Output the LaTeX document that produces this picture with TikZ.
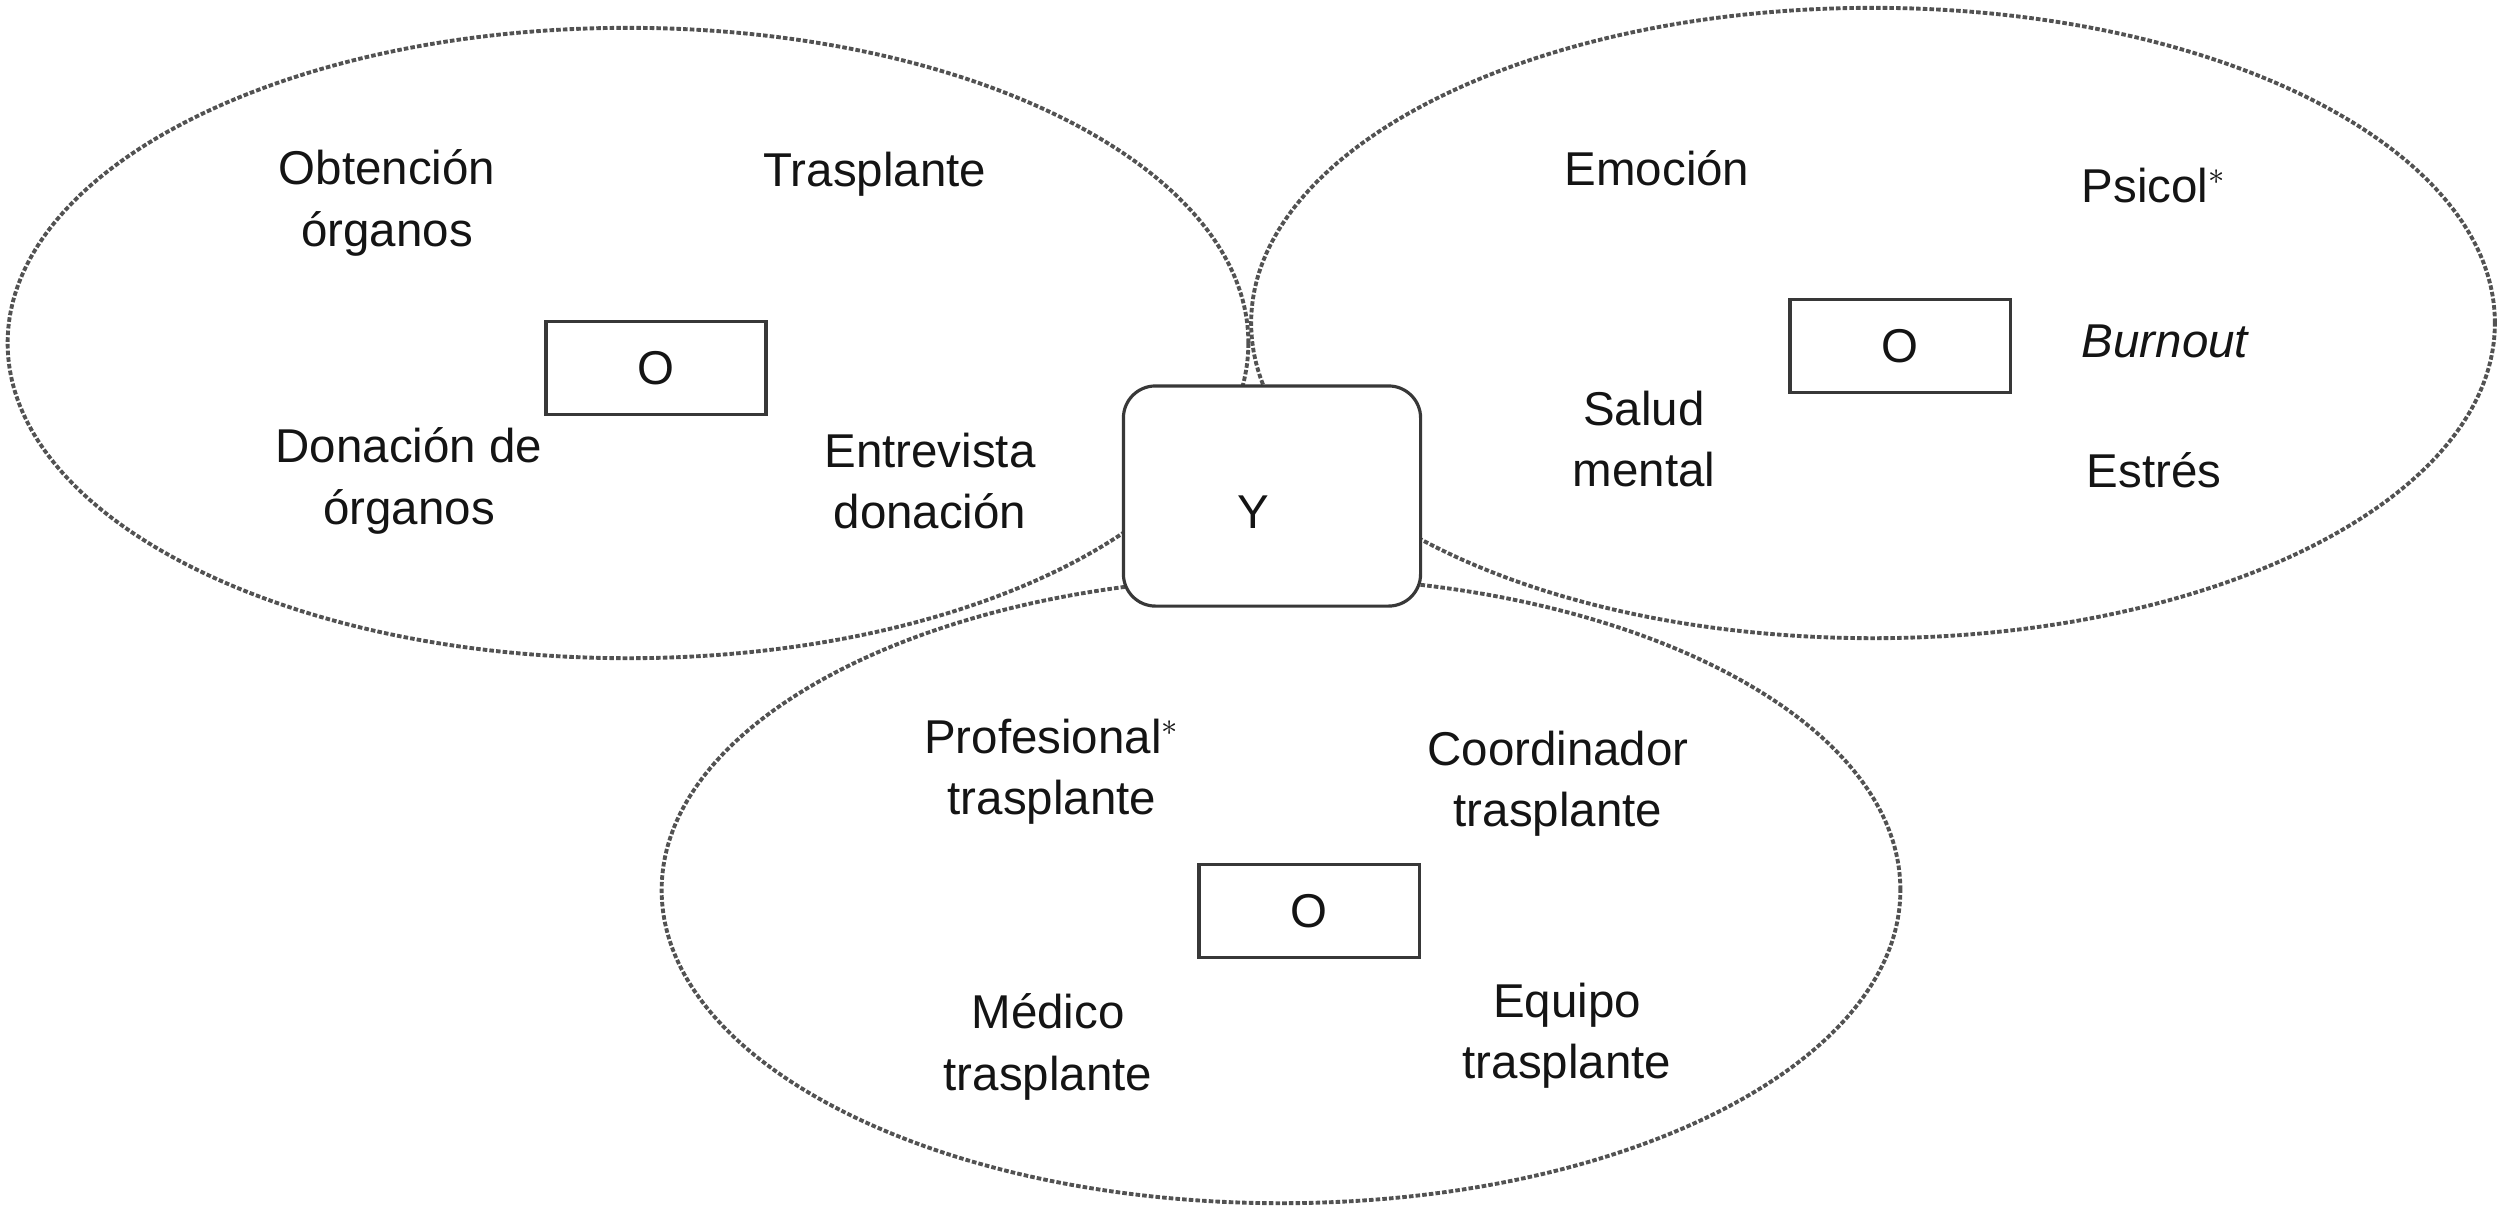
\documentclass[tikz,border=0pt]{standalone}
\usepackage{fontspec}
\setmainfont{Liberation Sans}
\newcommand\labfont{\fontsize{13.5pt}{17.4pt}\selectfont}
\begin{document}
\begin{tikzpicture}[x=0.01cm,y=-0.01cm,
  oval/.style={draw=black!68, line width=1.1pt, dash pattern=on 1.3pt off 0.6pt},
  orbox/.style={draw=black!78, line width=0.9pt, minimum width=2.2cm, minimum height=0.93cm, inner sep=0pt, font=\labfont, text=black!92},
  ybox/.style={draw=black!78, fill=white, line width=0.9pt, rounded corners=0.32cm, minimum width=2.97cm, minimum height=2.2cm, inner sep=0pt},
  term/.style={align=center, font=\labfont, text=black!92, inner sep=0pt}]
\useasboundingbox (0,0) rectangle (2500,1211);
% ovals
\draw[oval] (628,343) ellipse [x radius=6.2cm, y radius=3.15cm];
\draw[oval] (1873,323) ellipse [x radius=6.215cm, y radius=3.15cm];
\draw[oval] (1281,890) ellipse [x radius=6.19cm, y radius=3.13cm];
% central box
\node[ybox] (y) at (1272,496) {};
\node[term] (ylab) at (1253,512) {Y};
% left group
\node[orbox] (o1) at (656,368) {O};
\node[term] (obt) at (387,203) {Obtención\\órganos};
\node[term] (tra) at (875,174) {Trasplante};
\node[term] (don) at (409,481) {Donación de\\órganos};
\node[term] (ent) at (930,481) {Entrevista\\donación};
% right group
\node[orbox] (o2) at (1900,346) {O};
\node[term] (emo) at (1657,168) {Emoción};
\node[term] (psi) at (2154,186) {Psicol$^{\ast}$};
\node[term] (bur) at (2165,341) {\itshape Burnout};
\node[term] (sal) at (1644,439) {Salud\\mental};
\node[term] (est) at (2154,470) {Estrés};
% bottom group
\node[orbox] (o3) at (1309,911) {O};
\node[term] (pro) at (1052,772) {Profesional$^{\ast}$\\trasplante};
\node[term] (coo) at (1558,784) {Coordinador\\trasplante};
\node[term] (med) at (1048,1047) {Médico\\trasplante};
\node[term] (equ) at (1567,1036) {Equipo\\trasplante};
\end{tikzpicture}
\end{document}
